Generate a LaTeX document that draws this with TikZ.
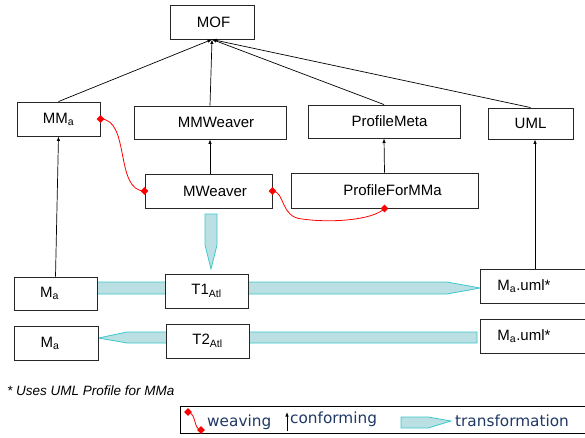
\documentclass[tikz,border=0pt]{standalone}
\usepackage{fontspec}
\setmainfont{Liberation Sans}
\newfontfamily\legendfont{DejaVu Sans}
\usetikzlibrary{arrows.meta,shapes.geometric,backgrounds}
\definecolor{transfill}{RGB}{186,224,228}
\definecolor{transedge}{RGB}{60,200,205}
\definecolor{legendtext}{RGB}{31,56,100}
\begin{document}
\begin{tikzpicture}[x=1pt,y=-1pt,
  box/.style={draw=black!85, line width=0.9pt, fill=white, inner sep=0pt,
    font=\fontsize{15}{18}\selectfont},
  conf/.style={draw=black, line width=0.7pt, -{Latex[length=4.5pt,width=3.5pt]}},
  weave/.style={draw=red, line width=0.8pt},
  wmark/.style={diamond, fill=red, inner sep=0pt, minimum size=8pt},
  trans/.style={draw=transedge, fill=transfill, line width=0.8pt, line join=miter},
  legtext/.style={font=\legendfont\fontsize{15.3}{18}\selectfont, text=legendtext,
    inner sep=0pt, anchor=base west}]

\useasboundingbox (0,0) rectangle (585,438);

% metamodel layer
\node[box, minimum width=84pt, minimum height=34pt] (MOF) at (212,22) {\hspace*{3pt}MOF};
\node[box, minimum width=83pt, minimum height=34pt] (MMa) at (58.5,119) {MM\textsubscript{a}};
\node[box, minimum width=152pt, minimum height=33pt] (MMW) at (210,122.5) {\hspace*{12pt}MMWeaver};
\node[box, minimum width=152pt, minimum height=33pt] (PM) at (384,121.5) {\hspace*{11pt}ProfileMeta};
\node[box, minimum width=85pt, minimum height=31pt] (UML) at (530.5,123.5) {UML};
\node[box, minimum width=127pt, minimum height=34pt] (MW) at (208.5,191) {\hspace*{13pt}MWeaver};
\node[box, minimum width=187pt, minimum height=35pt] (PF) at (384.5,190.5) {\hspace*{16pt}ProfileForMMa};

% model layer
\node[box, minimum width=83pt, minimum height=33pt] (Ma1) at (55.5,293.5) {M\textsubscript{a}\hspace*{12pt}};
\node[box, minimum width=83pt, minimum height=34pt] (T1) at (206.5,291) {T1\textsubscript{Atl}};
\node[box, minimum width=84pt, minimum height=34pt] (Ma2) at (56,343) {M\textsubscript{a}\hspace*{12pt}};
\node[box, minimum width=83pt, minimum height=34pt] (T2) at (207.5,341) {T2\textsubscript{Atl}};
\node[box, anchor=west, text width=125pt, align=left, minimum height=34pt] (MU1) at (480,286)
  {\hspace*{17pt}M\textsubscript{a}.uml*};
\node[box, anchor=west, text width=125pt, align=left, minimum height=34pt] (MU2) at (480,336)
  {\hspace*{17pt}M\textsubscript{a}.uml*};

% conformance
\draw[conf] (MMa.north) -- (MOF.south);
\draw[conf] (MMW.north) -- (MOF.south);
\draw[conf] (PM.north) -- (MOF.south);
\draw[conf] (UML.north) -- (MOF.south);
\draw[conf] (MW.north -| MMW) -- (MMW.south);
\draw[conf] (PF.north) -- (PM.south);
\draw[conf] (Ma1.north) -- (MMa.south);
\coordinate (u1) at ([xshift=55pt]MU1.north west);
\draw[conf] (u1) -- (u1 |- UML.south);

% weaving links
\draw[weave] (MMa.east) .. controls +(30,0) and +(-30,0) .. (MW.west);
\coordinate (wdip) at (302,219);
\draw[weave] (MW.east) .. controls +(13,1) and +(-22,-2) .. (wdip)
  .. controls +(28,4) and +(-12,12) .. (PF.south);
\node[wmark] (wm1) at (MMa.east) {};
\node[wmark] (wm2) at (MW.west) {};
\node[wmark] (wm3) at (MW.east) {};
\node[wmark] (wm4) at (PF.south) {};

% transformations
\begin{scope}[on background layer]
  \draw[trans] (Ma1.east |- 0,282) -- (447,282) -- (MU1.west |- 0,288) -- (447,294)
    -- (Ma1.east |- 0,294) -- cycle;
  \draw[trans] (205,214) -- (205,245) -- (211,269) -- (217,245) -- (217,214) -- cycle;
  \draw[trans] (477,332) -- (127,332) -- (Ma2.east |- 0,338) -- (127,343) -- (477,343) -- cycle;
\end{scope}

% footnote
\node[anchor=base west, inner sep=0pt, font=\itshape\fontsize{13.5}{16}\selectfont] (note)
  at (7,395) {* Uses UML Profile for MMa};

% legend
\node[draw, line width=1.2pt, anchor=north west, minimum width=420pt, minimum height=27pt,
  inner sep=0pt] (legend) at (180,406) {};
\coordinate (lw1) at (188,412);
\coordinate (lw2) at (201,430);
\draw[weave] (lw1) .. controls (197,414) and (193,429) .. (lw2);
\node[wmark] (lm1) at (lw1) {};
\node[wmark] (lm2) at (lw2) {};
\node[legtext] (lwt) at (207,426) {weaving};
\coordinate (lc1) at (287,431);
\coordinate (lc2) at (287,412);
\draw[conf] (lc1) -- (lc2);
\node[legtext] (lct) at (290,423) {conforming};
\draw[trans] (401,417) -- (428,417) -- (451,421) -- (428,428) -- (401,428) -- cycle;
\node[legtext] (ltt) at (455,426) {transformation};
\end{tikzpicture}
\end{document}
